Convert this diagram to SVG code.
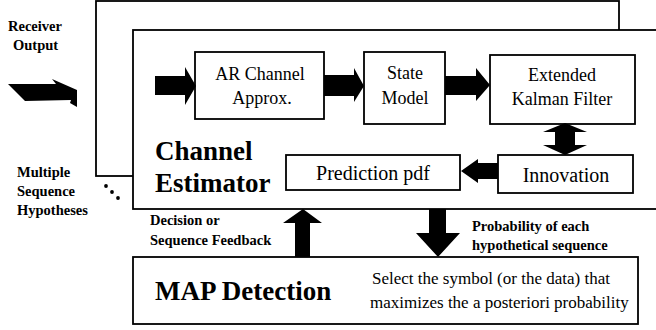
<svg xmlns="http://www.w3.org/2000/svg" width="656" height="330" viewBox="0 0 656 330" font-family="Liberation Serif, DejaVu Serif, serif">
<style>
.box{fill:#fff;stroke:#000;stroke-width:1.8}
.arr{fill:#000;stroke:none}
.lbl{font-size:18px;text-anchor:middle}
.big{font-size:27px;font-weight:bold}
.sm{font-size:14.5px;font-weight:bold}
</style>
<rect width="656" height="330" fill="#fff"/>
<g id="frames">
<rect class="box" x="96" y="1" width="523" height="175"/>
<rect class="box" x="133" y="30" width="530" height="179"/>
</g>
<g id="labels-outer">
<text class="sm" x="8" y="31">Receiver</text>
<text class="sm" x="13" y="50">Output</text>
<text class="sm" x="17" y="177">Multiple</text>
<text class="sm" x="17" y="196">Sequence</text>
<text class="sm" x="17" y="215">Hypotheses</text>
<circle cx="106" cy="186" r="1.9"/>
<circle cx="112" cy="192" r="1.9"/>
<circle cx="118" cy="198" r="1.9"/>
</g>
<g id="channel-estimator">
<text class="big" x="155" y="160">Channel</text>
<text class="big" x="155" y="192">Estimator</text>
</g>
<g id="ar">
<rect class="box" x="195" y="52" width="129" height="67"/>
<text class="lbl" x="260" y="80">AR Channel</text>
<text class="lbl" x="262" y="104">Approx.</text>
</g>
<g id="state">
<rect class="box" x="364" y="52" width="81" height="72"/>
<text class="lbl" x="405" y="79">State</text>
<text class="lbl" x="405" y="104">Model</text>
</g>
<g id="ekf">
<rect class="box" x="490" y="55" width="145" height="69"/>
<text class="lbl" x="562" y="81">Extended</text>
<text class="lbl" x="562" y="105">Kalman Filter</text>
</g>
<g id="prediction">
<rect class="box" x="286" y="155" width="174" height="35"/>
<text x="373" y="180" font-size="20" text-anchor="middle">Prediction pdf</text>
</g>
<g id="innovation">
<rect class="box" x="498" y="155" width="135" height="38"/>
<text x="566" y="182" font-size="20" text-anchor="middle">Innovation</text>
</g>
<g id="map">
<rect class="box" x="133" y="257" width="505" height="67"/>
<text class="big" x="155" y="300">MAP Detection</text>
<text x="372" y="284" font-size="17">Select the symbol (or the data) that</text>
<text x="370" y="308" font-size="17">maximizes the a posteriori probability</text>
</g>
<g id="connectors">
<polygon class="arr" points="8,84 56,84 52,79 77,90 77,107 70,103 71,100 25,101"/>
<polygon class="arr" points="155,76 185,76 185,67 196,86 185,105 185,95 155,95"/>
<polygon class="arr" points="324,75 354,75 354,68 364,86 354,102 354,96 324,96"/>
<polygon class="arr" points="445,76 476,76 476,68 490,85 476,101 476,95 445,95"/>
<polygon class="arr" points="565,123 587,132 575,132 575,145 587,145 565,155 543,145 555,145 555,132 543,132"/>
<polygon class="arr" points="498,163 478,163 478,159 461,171 478,183 478,179 498,179"/>
<polygon class="arr" points="429,209 446,209 446,233 460,233 438,257 416,233 429,233"/>
<polygon class="arr" points="303,209 322,223 310,223 310,257 295,257 295,223 283,223"/>
</g>
<g id="feedback-labels">
<text class="sm" x="150" y="225">Decision or</text>
<text class="sm" x="150" y="245">Sequence Feedback</text>
<text class="sm" x="472" y="231">Probability of each</text>
<text class="sm" x="472" y="250">hypothetical sequence</text>
</g>
</svg>
